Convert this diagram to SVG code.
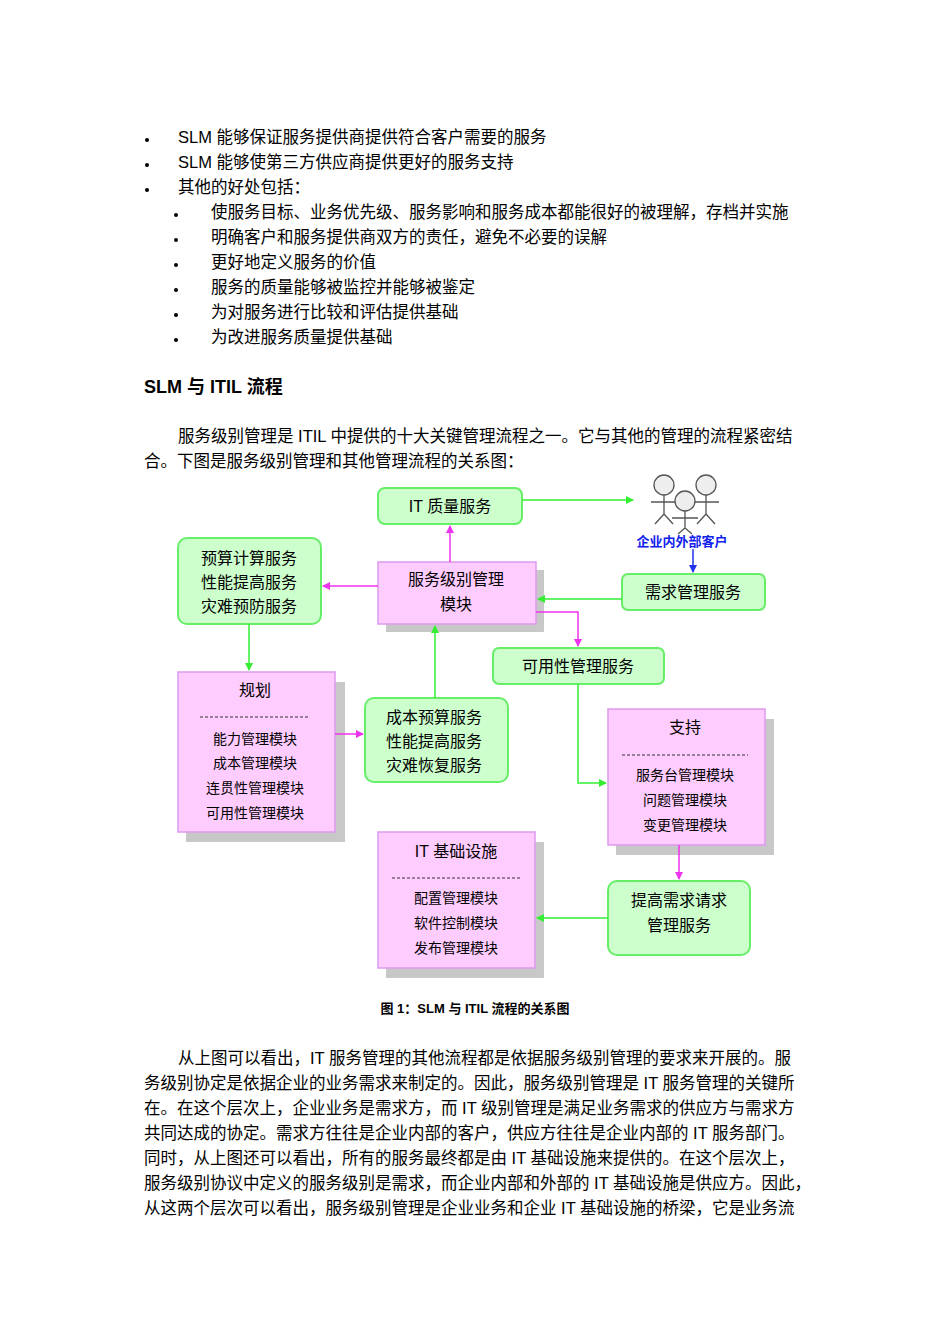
<svg xmlns="http://www.w3.org/2000/svg" width="950" height="1344" viewBox="0 0 950 1344">
<style>
text{font-family:"Liberation Sans","Noto Sans CJK SC",sans-serif;fill:#000}
.b{font-size:16.5px}
.n{font-size:16px}
.s{font-size:14px}
.g{fill:#ccffcc;stroke:#66ee66;stroke-width:2}
.p{fill:#ffccff;stroke:#dd99ee;stroke-width:1.5}
.sh{fill:#c8c8c8}
.cg{stroke:#33ee33;stroke-width:1.5;fill:none}
.cm{stroke:#ee33ee;stroke-width:1.5;fill:none}
.d{stroke:#333;stroke-dasharray:3 2;stroke-width:1}
</style>
<defs>
<marker id="ag" markerWidth="8" markerHeight="8" refX="7" refY="4" orient="auto" markerUnits="userSpaceOnUse"><path d="M0,0L8,4L0,8z" fill="#33ee33"/></marker>
<marker id="am" markerWidth="8" markerHeight="8" refX="7" refY="4" orient="auto" markerUnits="userSpaceOnUse"><path d="M0,0L8,4L0,8z" fill="#ee33ee"/></marker>
<marker id="ab" markerWidth="8" markerHeight="8" refX="7" refY="4" orient="auto" markerUnits="userSpaceOnUse"><path d="M0,0L8,4L0,8z" fill="#2233ee"/></marker>
</defs>
<rect width="950" height="1344" fill="#fff"/>
<g id="text-top" class="b">
<circle cx="147" cy="140" r="2"/><text x="178" y="143">SLM 能够保证服务提供商提供符合客户需要的服务</text>
<circle cx="147" cy="165" r="2"/><text x="178" y="168">SLM 能够使第三方供应商提供更好的服务支持</text>
<circle cx="147" cy="190" r="2"/><text x="178" y="193">其他的好处包括：</text>
<circle cx="176" cy="215" r="2"/><text x="211" y="218">使服务目标、业务优先级、服务影响和服务成本都能很好的被理解，存档并实施</text>
<circle cx="176" cy="240" r="2"/><text x="211" y="243">明确客户和服务提供商双方的责任，避免不必要的误解</text>
<circle cx="176" cy="265" r="2"/><text x="211" y="268">更好地定义服务的价值</text>
<circle cx="176" cy="290" r="2"/><text x="211" y="293">服务的质量能够被监控并能够被鉴定</text>
<circle cx="176" cy="315" r="2"/><text x="211" y="318">为对服务进行比较和评估提供基础</text>
<circle cx="176" cy="340" r="2"/><text x="211" y="343">为改进服务质量提供基础</text>
<text x="144" y="393" font-size="18" font-weight="bold">SLM 与 ITIL 流程</text>
<text x="178" y="442">服务级别管理是 ITIL 中提供的十大关键管理流程之一。它与其他的管理的流程紧密结</text>
<text x="144" y="467">合。下图是服务级别管理和其他管理流程的关系图：</text>
</g>
<g id="it-quality"><rect class="g" x="378" y="488" width="144" height="36" rx="7"/><text class="n" x="450" y="512" text-anchor="middle">IT 质量服务</text></g>
<g id="customers" stroke="#555" fill="none" stroke-width="1.3">
<circle cx="664" cy="485" r="10" fill="#eee"/><path d="M664,495V514M651,502H677M664,514L655,524M664,514L673,524"/>
<circle cx="706" cy="485" r="10" fill="#eee"/><path d="M706,495V514M693,502H719M706,514L697,524M706,514L715,524"/>
<circle cx="685" cy="501" r="10" fill="#eee"/><path d="M685,511V528M672,518H698M685,528L678,534M685,528L692,534"/>
</g>
<g id="customer-label"><text x="682" y="546" text-anchor="middle" font-size="13" font-weight="bold" style="fill:#1122ee">企业内外部客户</text></g>
<g id="budget"><rect class="g" x="178" y="538" width="143" height="86" rx="9"/><text class="n" x="249" y="564" text-anchor="middle">预算计算服务</text><text class="n" x="249" y="588" text-anchor="middle">性能提高服务</text><text class="n" x="249" y="612" text-anchor="middle">灾难预防服务</text></g>
<g id="slm"><rect class="sh" x="386" y="570" width="158" height="62"/><rect class="p" x="378" y="562" width="158" height="62"/><text class="n" x="456" y="585" text-anchor="middle">服务级别管理</text><text class="n" x="456" y="610" text-anchor="middle">模块</text></g>
<g id="demand"><rect class="g" x="622" y="574" width="143" height="36" rx="6"/><text class="n" x="693" y="598" text-anchor="middle">需求管理服务</text></g>
<g id="availability"><rect class="g" x="493" y="648" width="171" height="36" rx="6"/><text class="n" x="578" y="672" text-anchor="middle">可用性管理服务</text></g>
<g id="planning"><rect class="sh" x="186" y="682" width="159" height="160"/><rect class="p" x="178" y="672" width="157" height="160"/><text class="n" x="255" y="696" text-anchor="middle">规划</text><line class="d" x1="200" y1="717" x2="310" y2="717"/><text class="s" x="255" y="744" text-anchor="middle">能力管理模块</text><text class="s" x="255" y="768" text-anchor="middle">成本管理模块</text><text class="s" x="255" y="793" text-anchor="middle">连贯性管理模块</text><text class="s" x="255" y="818" text-anchor="middle">可用性管理模块</text></g>
<g id="cost"><rect class="g" x="365" y="698" width="143" height="84" rx="9"/><text class="n" x="434" y="723" text-anchor="middle">成本预算服务</text><text class="n" x="434" y="747" text-anchor="middle">性能提高服务</text><text class="n" x="434" y="771" text-anchor="middle">灾难恢复服务</text></g>
<g id="support"><rect class="sh" x="616" y="719" width="158" height="136"/><rect class="p" x="608" y="709" width="157" height="136"/><text class="n" x="685" y="733" text-anchor="middle">支持</text><line class="d" x1="622" y1="755" x2="748" y2="755"/><text class="s" x="685" y="780" text-anchor="middle">服务台管理模块</text><text class="s" x="685" y="805" text-anchor="middle">问题管理模块</text><text class="s" x="685" y="830" text-anchor="middle">变更管理模块</text></g>
<g id="infra"><rect class="sh" x="386" y="842" width="158" height="136"/><rect class="p" x="378" y="832" width="157" height="136"/><text class="n" x="456" y="857" text-anchor="middle">IT 基础设施</text><line class="d" x1="392" y1="878" x2="520" y2="878"/><text class="s" x="456" y="903" text-anchor="middle">配置管理模块</text><text class="s" x="456" y="928" text-anchor="middle">软件控制模块</text><text class="s" x="456" y="953" text-anchor="middle">发布管理模块</text></g>
<g id="improve"><rect class="g" x="608" y="881" width="142" height="74" rx="9"/><text class="n" x="679" y="906" text-anchor="middle">提高需求请求</text><text class="n" x="679" y="931" text-anchor="middle">管理服务</text></g>
<g id="connectors">
<path class="cg" d="M522,500H633" marker-end="url(#ag)"/>
<path class="cm" d="M450,562V526" marker-end="url(#am)"/>
<path class="cm" d="M378,586H323" marker-end="url(#am)"/>
<path class="cg" d="M622,599H538" marker-end="url(#ag)"/>
<path d="M693,549V572" stroke="#2233ee" stroke-width="1.5" marker-end="url(#ab)"/>
<path class="cm" d="M536,612H578V646" marker-end="url(#am)"/>
<path class="cg" d="M249,624V670" marker-end="url(#ag)"/>
<path class="cm" d="M335,734H363" marker-end="url(#am)"/>
<path class="cg" d="M435,698V626" marker-end="url(#ag)"/>
<path class="cg" d="M578,684V783H606" marker-end="url(#ag)"/>
<path class="cm" d="M679,845V879" marker-end="url(#am)"/>
<path class="cg" d="M608,918H537" marker-end="url(#ag)"/>
</g>
<g id="text-bottom" class="b">
<text x="475" y="1013" text-anchor="middle" font-size="13" font-weight="bold">图 1：SLM 与 ITIL 流程的关系图</text>
<text x="178" y="1064">从上图可以看出，IT 服务管理的其他流程都是依据服务级别管理的要求来开展的。服</text>
<text x="144" y="1089">务级别协定是依据企业的业务需求来制定的。因此，服务级别管理是 IT 服务管理的关键所</text>
<text x="144" y="1114">在。在这个层次上，企业业务是需求方，而 IT 级别管理是满足业务需求的供应方与需求方</text>
<text x="144" y="1139">共同达成的协定。需求方往往是企业内部的客户，供应方往往是企业内部的 IT 服务部门。</text>
<text x="144" y="1164">同时，从上图还可以看出，所有的服务最终都是由 IT 基础设施来提供的。在这个层次上，</text>
<text x="144" y="1189">服务级别协议中定义的服务级别是需求，而企业内部和外部的 IT 基础设施是供应方。因此，</text>
<text x="144" y="1214">从这两个层次可以看出，服务级别管理是企业业务和企业 IT 基础设施的桥梁，它是业务流</text>
</g>
</svg>
